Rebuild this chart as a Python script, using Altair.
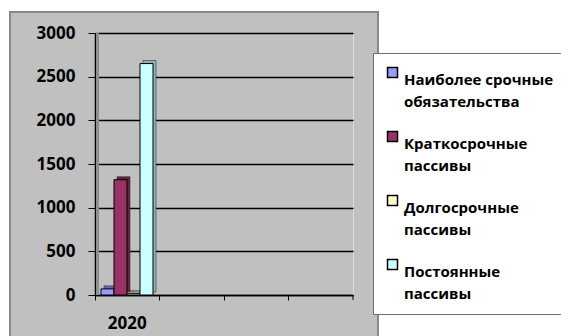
import altair as alt
import pandas as pd

# Chart data
categories = ["2020", " ", "  ", "   "]
series = [
    "Наиболее срочные\nобязательства",
    "Краткосрочные\nпассивы",
    "Долгосрочные\nпассивы",
    "Постоянные\nпассивы",
]
values_2020 = [70, 1320, 15, 2650]
y_ticks = [0, 500, 1000, 1500, 2000, 2500, 3000]

# Styling
face_colors = ["#9999ff", "#993366", "#ffffcc", "#ccffff"]
side_colors = ["#6767b0", "#66223f", "#b5b58c", "#8cb5b5"]
FONT = "Open Sans"
W, H = 258, 262

df = pd.DataFrame({"year": ["2020"] * len(series), "series": series, "value": values_2020})

x_enc = alt.X(
    "year:N",
    scale=alt.Scale(domain=categories, paddingInner=0, paddingOuter=0),
    axis=alt.Axis(
        title=None, labelAngle=0, bandPosition=0,
        domainColor="black", domainWidth=1.5, tickColor="black", tickWidth=1,
        tickSize=5, labelPadding=15, labelFont=FONT, labelFontSize=17,
        labelFontWeight="bold", labelColor="black", grid=False,
    ),
)
y_enc = alt.Y(
    "value:Q",
    scale=alt.Scale(domain=[0, 3000], nice=False),
    axis=alt.Axis(
        title=None, values=y_ticks, format="d", domainColor="black", domainWidth=1.5,
        tickColor="black", tickSize=7, labelPadding=13, labelFont=FONT,
        labelFontSize=17, labelFontWeight="bold", labelColor="black",
        gridColor="black", gridWidth=1.5,
    ),
)

base = alt.Chart(df)

# darker side/top faces: same bars, slot range nudged 3px right and raised 3px
sides = base.mark_bar(yOffset=-3, stroke="#333333", strokeWidth=0.6).encode(
    x=x_enc,
    xOffset=alt.XOffset("series:N", sort=series,
                        scale=alt.Scale(domain=series, range=[9, 61])),
    y=y_enc,
    color=alt.Color("series:N", scale=alt.Scale(domain=series, range=side_colors), legend=None),
)

fronts = base.mark_bar(stroke="black", strokeWidth=1).encode(
    x=x_enc,
    xOffset=alt.XOffset("series:N", sort=series,
                        scale=alt.Scale(domain=series, range=[6, 58])),
    y=y_enc,
    color=alt.Color(
        "series:N", sort=series,
        scale=alt.Scale(domain=series, range=face_colors),
        legend=alt.Legend(
            title=None, orient="none", legendX=278, legendY=20, direction="vertical",
            fillColor="white", strokeColor="#707070", zindex=1,
            padding=12, symbolType="square", symbolSize=100,
            symbolStrokeColor="black", symbolStrokeWidth=1.5,
            labelFont=FONT, labelFontSize=15, labelFontWeight="bold",
            labelColor="black", labelLimit=400, labelOffset=4,
            labelBaseline="top",
            labelExpr="split(datum.label, '\\n')", rowPadding=18,
        ),
    ),
)

deco = alt.Chart(pd.DataFrame({"k": [0]}))

# side wall of the plot box
wall = deco.mark_rect(fill="#8f8f8f").encode(
    x=alt.value(1), x2=alt.value(4), y=alt.value(0), y2=alt.value(H)
)
# closing tick at the end of the category axis
end_tick = deco.mark_rule(color="black", strokeWidth=1).encode(
    x=alt.value(W), y=alt.value(H), y2=alt.value(H + 5)
)
# white page around the grey chart area
top_strip = deco.mark_rect(fill="white").encode(
    x=alt.value(-95), x2=alt.value(470), y=alt.value(-33), y2=alt.value(-21)
)
left_strip = deco.mark_rect(fill="white").encode(
    x=alt.value(-95), x2=alt.value(-85), y=alt.value(-33), y2=alt.value(310)
)
right_strip = deco.mark_rect(fill="white").encode(
    x=alt.value(283), x2=alt.value(470), y=alt.value(-33), y2=alt.value(310)
)
frame = deco.mark_rect(fill="transparent", stroke="#8a8a8a", strokeWidth=2).encode(
    x=alt.value(-85), x2=alt.value(283), y=alt.value(-21), y2=alt.value(320)
)

chart = (
    alt.layer(wall, top_strip, left_strip, right_strip, frame, sides, fronts, end_tick)
    .resolve_scale(color="independent", xOffset="independent")
    .properties(
        width=W, height=H,
        autosize=alt.AutoSizeParams(type="none"),
        padding={"left": 95, "top": 33, "right": 561 - 95 - W, "bottom": 336 - 33 - H},
        background="#c0c0c0",
    )
    .configure_view(stroke=None)
    .configure(style={"guide-label": {"lineHeight": 22}})
)

chart.save("out.html", embed_options={"renderer": "svg", "actions": False})
